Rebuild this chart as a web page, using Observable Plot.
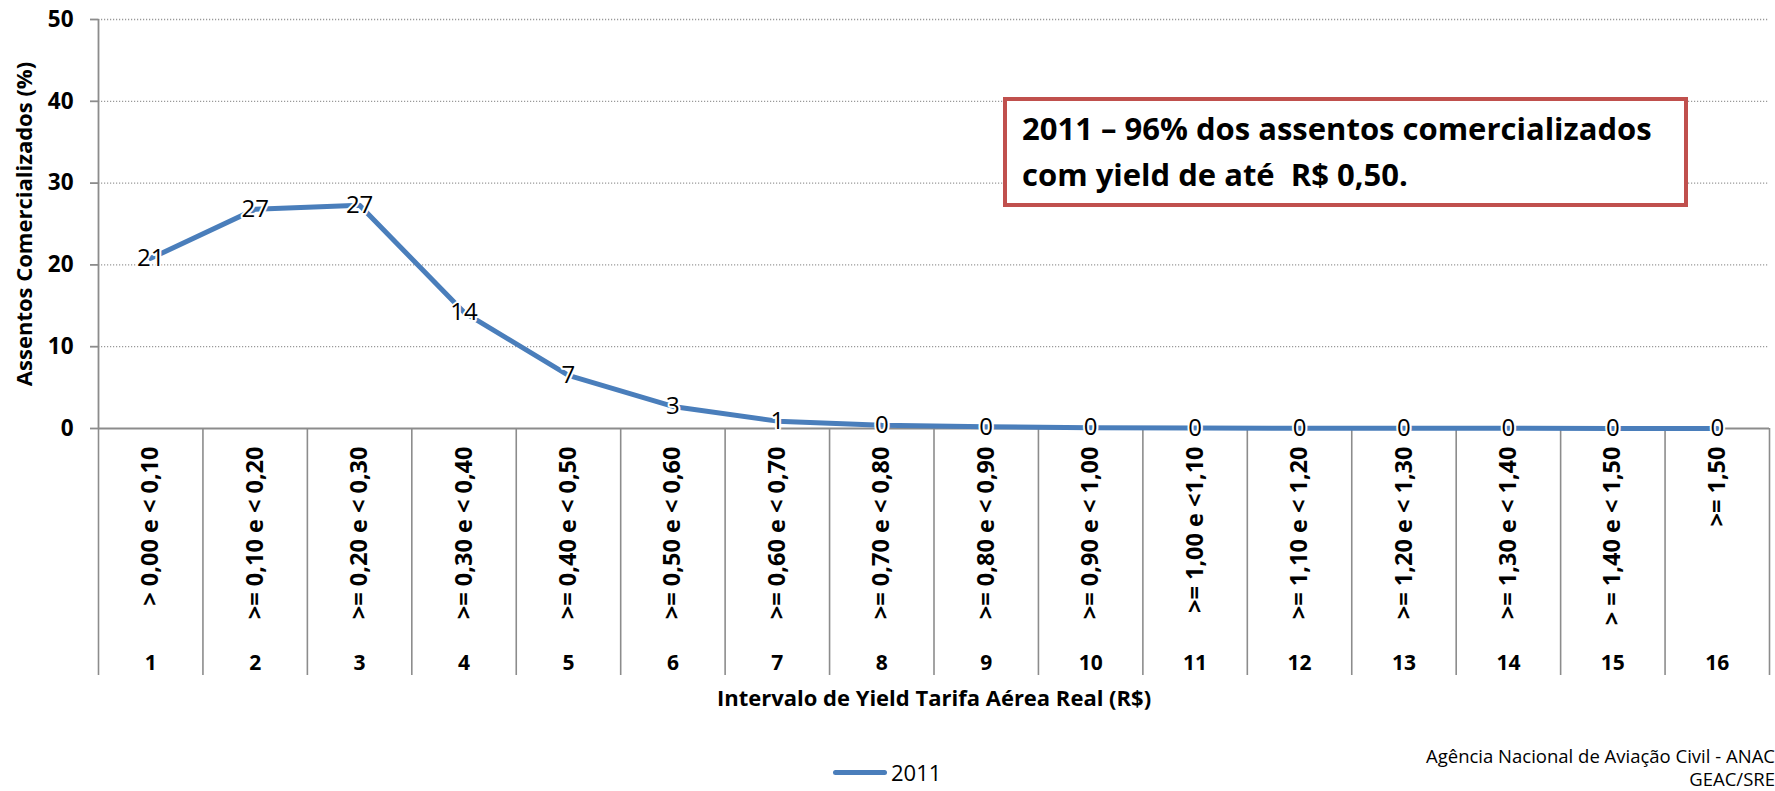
<!DOCTYPE html>
<html>
<head>
<meta charset="utf-8">
<script src="https://cdn.jsdelivr.net/npm/d3@7"></script>
<script src="https://cdn.jsdelivr.net/npm/@observablehq/plot@0.6"></script>
<style>
  html, body { margin: 0; padding: 0; background: white; overflow: hidden; }
  body { width: 1775px; height: 791px; position: relative; font-family: "Open Sans", "Noto Sans", sans-serif; color: #000; }
  #chart { position: absolute; left: 0; top: 0; }
  #note { position: absolute; left: 1003px; top: 97px; width: 685px; height: 110px; box-sizing: border-box;
          border: 4px solid #C0504D; background: white; padding: 4px 0 0 15px;
          font-weight: bold; font-size: 31px; line-height: 46px; white-space: pre; }
  #legend { position: absolute; left: 833px; top: 758px; height: 28px; display: flex; align-items: center; font-size: 22px; }
  #legend .sw { width: 54px; height: 5px; border-radius: 3px; background: #4A7EBB; margin-right: 4px; }
  #source { position: absolute; right: 0; top: 744px; font-size: 18.5px; line-height: 23px; text-align: right; white-space: nowrap; }
</style>
</head>
<body>
<div id="chart"></div>
<div id="note"></div>
<div id="legend"></div>
<div id="source"></div>
<script>
// ---- data ----
const categories = [
  "> 0,00 e < 0,10", ">= 0,10 e < 0,20", ">= 0,20 e < 0,30", ">= 0,30 e < 0,40",
  ">= 0,40 e < 0,50", ">= 0,50 e < 0,60", ">= 0,60 e < 0,70", ">= 0,70 e < 0,80",
  ">= 0,80 e < 0,90", ">= 0,90 e < 1,00", ">= 1,00 e <1,10", ">= 1,10 e < 1,20",
  ">= 1,20 e < 1,30", ">= 1,30 e < 1,40", "> = 1,40 e < 1,50", ">= 1,50"
];
const categoryNumbers = [1, 2, 3, 4, 5, 6, 7, 8, 9, 10, 11, 12, 13, 14, 15, 16];
const values2011 = [20.8, 26.8, 27.3, 14.2, 6.5, 2.7, 0.9, 0.4, 0.2, 0.1, 0.05, 0.03, 0.02, 0.02, 0.01, 0.01];
const labels2011 = [21, 27, 27, 14, 7, 3, 1, 0, 0, 0, 0, 0, 0, 0, 0, 0];
const yTicks = [0, 10, 20, 30, 40, 50];
const seriesName = "2011";
const noteLines = ["2011 – 96% dos assentos comercializados", "com yield de até  R$ 0,50."];
const sourceLines = ["Agência Nacional de Aviação Civil - ANAC", "GEAC/SRE"];
const xTitle = "Intervalo de Yield Tarifa Aérea Real (R$)";
const yTitle = "Assentos Comercializados (%)";

// ---- build ----
const data = categoryNumbers.map((n, k) => ({n, v: values2011[k], lab: labels2011[k]}));
const bounds = d3.range(0, categoryNumbers.length + 1).map(k => k + 0.5);
const gray = "#8c8c8c";
const blue = "#4A7EBB";

const chart = Plot.plot({
  width: 1775,
  height: 740,
  marginLeft: 98,
  marginRight: 6,
  marginTop: 19,
  marginBottom: 312,
  style: {fontFamily: "'Open Sans', 'Noto Sans', sans-serif", background: "white", overflow: "visible", color: "black"},
  x: {domain: [0.5, categoryNumbers.length + 0.5], axis: null},
  y: {domain: [0, 50], axis: null},
  marks: [
    Plot.ruleY(yTicks.filter(d => d > 0), {stroke: "#999", strokeWidth: 1.3, strokeDasharray: "1.2,1.8"}),
    Plot.ruleY([0], {stroke: gray, strokeWidth: 1.8}),
    Plot.ruleX([bounds[0]], {stroke: gray, strokeWidth: 1.8}),
    Plot.axisY({ticks: yTicks, tickSize: 8, tickPadding: 17, stroke: gray, strokeWidth: 1.8, fill: "black",
      fontSize: 22.5, fontWeight: "bold", label: yTitle, labelAnchor: "center", labelOffset: 82, labelArrow: "none"}),
    Plot.axisX({ticks: bounds, tickSize: 247, stroke: gray, strokeWidth: 1.6, tickFormat: () => "", label: null}),
    Plot.axisX({ticks: categoryNumbers, tickSize: 0, tickRotate: -90, tickPadding: 18, fill: "black",
      tickFormat: n => categories[n - 1], fontSize: 23.5, fontWeight: "bold", label: null}),
    Plot.axisX({ticks: categoryNumbers, tickSize: 0, tickPadding: 227, fill: "black",
      tickFormat: n => String(n), fontSize: 21, fontWeight: "bold",
      label: xTitle, labelAnchor: "center", labelOffset: 277, labelArrow: "none"}),
    Plot.line(data, {x: "n", y: "v", stroke: blue, strokeWidth: 5, curve: "linear"}),
    Plot.text(data, {x: "n", y: "v", text: d => String(d.lab), fontSize: 24, fill: "black",
      stroke: "white", strokeWidth: 4, paintOrder: "stroke"})
  ]
});
// style axis titles
for (const g of chart.querySelectorAll('g[aria-label="y-axis label"], g[aria-label="x-axis label"]')) {
  g.setAttribute("font-size", 22);
  g.setAttribute("font-weight", "bold");
  g.setAttribute("fill", "black");
}
document.getElementById("chart").append(chart);

document.getElementById("note").textContent = noteLines.join("\n");
document.getElementById("legend").innerHTML = `<span class="sw"></span><span>${seriesName}</span>`;
document.getElementById("source").innerHTML = sourceLines.join("<br>");
</script>
</body>
</html>
